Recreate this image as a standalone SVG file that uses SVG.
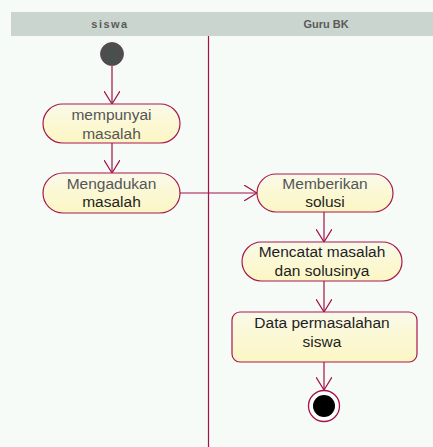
<svg xmlns="http://www.w3.org/2000/svg" width="433" height="447" viewBox="0 0 433 447">
  <style>
    .lane-title { font-family: "Liberation Sans", Arial, sans-serif; font-size: 11px; font-weight: bold; fill: #5a5a5a; text-anchor: middle; }
    .act { fill: url(#actFill); stroke: #a8184c; stroke-width: 1.2; }
    .label { font-family: "Liberation Sans", Arial, sans-serif; font-size: 15.5px; fill: #1e1e1e; text-anchor: middle; }
    .soft { fill: #555555; }
    .flow { fill: none; stroke: #a3124a; stroke-width: 1.2; }
  </style>
  <defs>
    <linearGradient id="actFill" x1="0" y1="0" x2="0" y2="1">
      <stop offset="0" stop-color="#f9f9ea"/>
      <stop offset="0.45" stop-color="#fbf8d6"/>
      <stop offset="1" stop-color="#fcf6c4"/>
    </linearGradient>
    <marker id="open" viewBox="0 0 14 16" refX="13" refY="8" markerWidth="14" markerHeight="16" markerUnits="userSpaceOnUse" orient="auto">
      <path d="M0,0 L13,8 L0,16" fill="none" stroke="#a3124a" stroke-width="1.2"/>
    </marker>
  </defs>

  <!-- page background -->
  <rect x="0" y="0" width="433" height="447" fill="#f7fbf8"/>

  <!-- swimlane header and divider -->
  <g id="lanes">
    <rect x="11" y="12" width="422" height="24" fill="#c9d5ce"/>
    <text class="lane-title" x="110" y="28" letter-spacing="1.5">siswa</text>
    <text class="lane-title" x="326" y="28">Guru BK</text>
    <line x1="208.5" y1="36" x2="208.5" y2="447" stroke="#a3124a" stroke-width="1.2"/>
  </g>

  <!-- control flows -->
  <g id="connectors">
    <line class="flow" x1="112" y1="66" x2="112" y2="104" marker-end="url(#open)"/>
    <line class="flow" x1="112" y1="143" x2="112" y2="173" marker-end="url(#open)"/>
    <line class="flow" x1="180" y1="193" x2="257" y2="193" marker-end="url(#open)"/>
    <line class="flow" x1="324" y1="212" x2="324" y2="242" marker-end="url(#open)"/>
    <line class="flow" x1="324" y1="281" x2="324" y2="312" marker-end="url(#open)"/>
    <line class="flow" x1="324" y1="362" x2="324" y2="390" marker-end="url(#open)"/>
  </g>

  <g id="start">
    <circle cx="112" cy="54" r="11.5" fill="#4a4f4d" stroke="#6a3a4a" stroke-width="0.8"/>
  </g>

  <g id="mempunyai-masalah">
    <rect class="act" x="43" y="104" width="137" height="39" rx="19.5"/>
    <text class="label soft" x="111.5" y="120">mempunyai</text>
    <text class="label soft" x="111.5" y="139">masalah</text>
  </g>

  <g id="mengadukan-masalah">
    <rect class="act" x="43" y="173" width="137" height="40" rx="20"/>
    <text class="label soft" x="111.5" y="189">Mengadukan</text>
    <text class="label" x="111.5" y="207">masalah</text>
  </g>

  <g id="memberikan-solusi">
    <rect class="act" x="257" y="174" width="136" height="38" rx="19"/>
    <text class="label soft" x="325" y="189">Memberikan</text>
    <text class="label" x="325" y="207">solusi</text>
  </g>

  <g id="mencatat">
    <rect class="act" x="242" y="242" width="160" height="39" rx="19.5"/>
    <text class="label" x="322" y="257">Mencatat masalah</text>
    <text class="label" x="322" y="276">dan solusinya</text>
  </g>

  <g id="data-permasalahan">
    <rect class="act" x="232" y="312" width="185" height="50" rx="8"/>
    <text class="label" x="322" y="328">Data permasalahan</text>
    <text class="label" x="322" y="347">siswa</text>
  </g>

  <g id="end">
    <circle cx="324" cy="406" r="15.5" fill="#ffffff" stroke="#a3124a" stroke-width="1.3"/>
    <circle cx="324" cy="406" r="11" fill="#000000"/>
  </g>
</svg>
